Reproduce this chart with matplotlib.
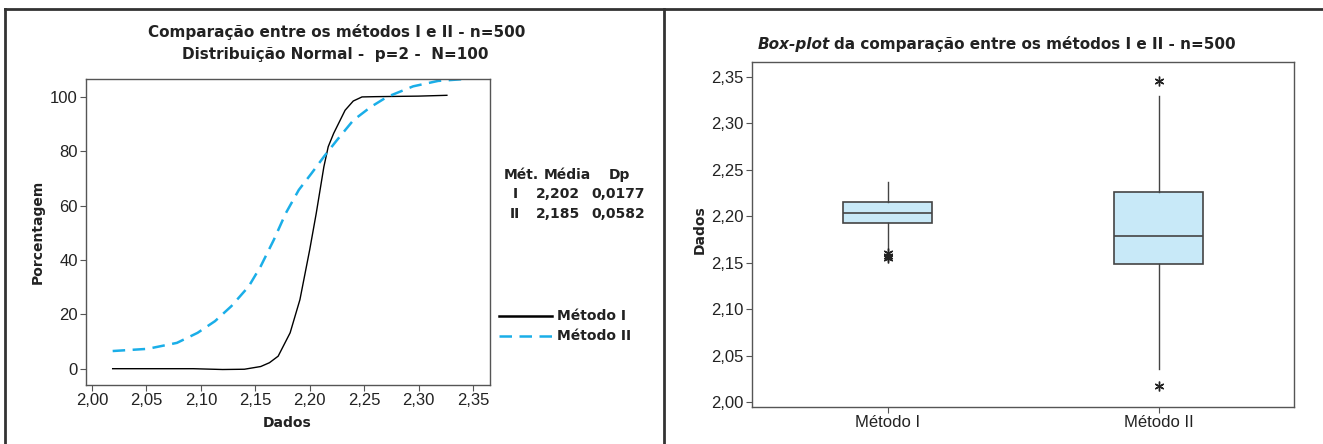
import numpy as np
import matplotlib.pyplot as plt
from matplotlib.lines import Line2D
from matplotlib.ticker import FuncFormatter
from matplotlib import font_manager

# ---- data ----
# left panel: cumulative percentage curves
m1_x = [2.019, 2.05, 2.093, 2.12, 2.140, 2.155, 2.163, 2.171, 2.182, 2.191, 2.200,
        2.206, 2.213, 2.217, 2.222, 2.2325, 2.240, 2.248, 2.26, 2.30, 2.326]
m1_y = [0, 0, 0, -0.3, -0.2, 0.8, 2.2, 4.6, 13.2, 25.4, 43.8,
        57.2, 74.3, 81.7, 86.6, 95.1, 98.5, 100, 100.1, 100.3, 100.6]
m2_x = [2.019, 2.051, 2.078, 2.097, 2.113, 2.128, 2.144, 2.155, 2.167, 2.178, 2.190,
        2.2017, 2.213, 2.225, 2.240, 2.256, 2.271, 2.295, 2.318, 2.343]
m2_y = [6.5, 7.3, 9.5, 13.2, 17.5, 23.0, 30.3, 37.7, 47.4, 57.2, 65.8,
        71.9, 78.0, 84.1, 91.4, 96.3, 100, 103.9, 105.9, 106.6]

metodos = ["I", "II"]
medias = ["2,202", "2,185"]
dps = ["0,0177", "0,0582"]

# right panel: box-plot statistics
box_labels = ["Método I", "Método II"]
q1 = [2.1925, 2.149]
med = [2.203, 2.179]
q3 = [2.215, 2.2256]
whislo = [2.164, 2.036]
whishi = [2.237, 2.329]
fliers = [[2.160, 2.157, 2.155], [2.346, 2.017]]

W, H = 1323, 444
fig = plt.figure(figsize=(W / 100, H / 100), dpi=100)
fig.patch.set_facecolor("white")

installed = {f.name for f in font_manager.fontManager.ttflist}
if "Liberation Sans Narrow" in installed:
    narrow = ["Liberation Sans Narrow", "DejaVu Sans"]
else:
    narrow = ["Liberation Sans", "DejaVu Sans"]
comma = FuncFormatter(lambda v, p: ("%.2f" % v).replace(".", ","))

def fx(px):
    return px / W

def fy(py):
    return 1 - py / H

# panel frame lines
fcol = "#333333"
fig.add_artist(Line2D([fx(5), 1], [fy(9), fy(9)], color=fcol, lw=2, transform=fig.transFigure))
fig.add_artist(Line2D([fx(5), fx(5)], [0, fy(9)], color=fcol, lw=2, transform=fig.transFigure))
fig.add_artist(Line2D([fx(664), fx(664)], [0, fy(9)], color=fcol, lw=2, transform=fig.transFigure))

# ---------------- left panel ----------------
ax1 = fig.add_axes([fx(86), fy(385), fx(490) - fx(86), fy(79) - fy(385)])
ax1.plot(m1_x, m1_y, color="black", lw=1.0)
ax1.plot(m2_x, m2_y, color="#1aaee8", lw=1.8, dashes=(5, 3))
ax1.set_xlim(1.9945, 2.3656)
ax1.set_ylim(-6, 106.6)
ax1.set_xticks(np.arange(2.00, 2.351, 0.05))
ax1.xaxis.set_major_formatter(comma)
ax1.set_yticks([0, 20, 40, 60, 80, 100])

for s in ax1.spines.values():
    s.set_color("#555555")
    s.set_linewidth(1.0)
ax1.tick_params(direction="out", length=4, width=0.8, color="#555555",
                labelsize=12, pad=2)
for lab in ax1.get_xticklabels() + ax1.get_yticklabels():
    lab.set_family(narrow)
    lab.set_color("#222222")

fig.text(fx(337), fy(32), "Comparação entre os métodos I e II - n=500", ha="center",
         va="center", fontsize=11, fontweight="bold", color="#222222")
fig.text(fx(335), fy(54), "Distribuição Normal -  p=2 -  N=100", ha="center",
         va="center", fontsize=11, fontweight="bold", color="#222222")
fig.text(fx(38), fy(232), "Porcentagem", rotation=90, ha="center", va="center",
         fontsize=10, fontweight="bold", color="#222222")
fig.text(fx(287), fy(423), "Dados", ha="center", va="center",
         fontsize=10, fontweight="bold", color="#222222")

# stats table
tk = dict(ha="center", va="center", fontsize=10, fontweight="bold", color="#222222")
fig.text(fx(521), fy(175), "Mét.", **tk)
fig.text(fx(567), fy(175), "Média", **tk)
fig.text(fx(619), fy(175), "Dp", **tk)
for i in range(len(metodos)):
    yy = fy(194 + 20 * i)
    fig.text(fx(515), yy, metodos[i], **tk)
    fig.text(fx(558), yy, medias[i], **tk)
    fig.text(fx(618), yy, dps[i], **tk)

# legend
fig.add_artist(Line2D([fx(499), fx(552)], [fy(316), fy(316)], color="black", lw=1.8,
                      transform=fig.transFigure))
fig.add_artist(Line2D([fx(499), fx(552)], [fy(336), fy(336)], color="#1aaee8", lw=1.8,
                      dashes=(5, 3), transform=fig.transFigure))
fig.text(fx(557), fy(316), "Método I", ha="left", va="center", fontsize=10,
         fontweight="bold", color="#222222")
fig.text(fx(557), fy(336), "Método II", ha="left", va="center", fontsize=10,
         fontweight="bold", color="#222222")

# ---------------- right panel ----------------
ax2 = fig.add_axes([fx(752), fy(407), fx(1294) - fx(752), fy(62) - fy(407)])
stats = []
for i in range(len(box_labels)):
    stats.append(dict(label=box_labels[i], q1=q1[i], med=med[i], q3=q3[i],
                      whislo=whislo[i], whishi=whishi[i], fliers=fliers[i]))
ax2.bxp(stats, positions=[1, 2], widths=0.33, patch_artist=True, showcaps=False,
        boxprops=dict(facecolor="#c8e9f8", edgecolor="#444444", linewidth=1.2),
        medianprops=dict(color="#444444", linewidth=1.2),
        whiskerprops=dict(color="#444444", linewidth=1.0),
        flierprops=dict(marker=(6, 2, 0), markersize=7, markeredgecolor="#222222",
                        markerfacecolor="none", markeredgewidth=1.0, linestyle="none"))
ax2.set_xlim(0.5, 2.5)
ax2.set_ylim(1.9946, 2.366)
ax2.set_yticks(np.arange(2.00, 2.351, 0.05))
ax2.yaxis.set_major_formatter(comma)
for s in ax2.spines.values():
    s.set_color("#555555")
    s.set_linewidth(1.0)
ax2.tick_params(direction="out", length=4, width=0.8, color="#555555",
                labelsize=12, pad=2)
for lab in ax2.get_yticklabels() + ax2.get_xticklabels():
    lab.set_family(narrow)
    lab.set_color("#222222")

fig.text(fx(700), fy(230), "Dados", rotation=90, ha="center", va="center",
         fontsize=10, fontweight="bold", color="#222222")

# title with italic first part
t1 = fig.text(fx(758), fy(44), "Box-plot", ha="left", va="center", fontsize=11,
              fontweight="bold", style="italic", color="#222222")
r = fig.canvas.get_renderer()
bb = t1.get_window_extent(renderer=r)
fig.text(bb.x1 / W + 0.003, fy(44), "da comparação entre os métodos I e II - n=500",
         ha="left", va="center", fontsize=11, fontweight="bold", color="#222222")

fig.savefig("out.png", dpi=100)
